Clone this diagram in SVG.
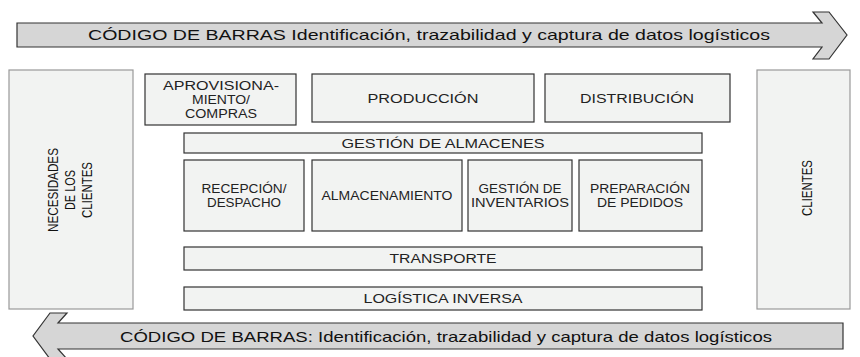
<svg xmlns="http://www.w3.org/2000/svg" width="860" height="357" viewBox="0 0 860 357">
<style>
.box{fill:#f2f3f2;stroke:#333;stroke-width:1.2}
.side{fill:#f2f3f2;stroke:#999;stroke-width:1.2}
.arrow{fill:#d6d6d6;stroke:#333;stroke-width:1.2;stroke-linejoin:miter}
.t{font-family:"Liberation Sans",Arial,sans-serif;font-size:12px;fill:#222;text-anchor:middle}
.tn{font-family:"Liberation Sans Narrow","Liberation Sans",Arial,sans-serif;font-size:15px;fill:#111;text-anchor:middle}
.ta{font-family:"Liberation Sans Narrow","Liberation Sans",Arial,sans-serif;font-size:15px;fill:#111}
</style>
<rect width="860" height="357" fill="#fff"/>
<g id="connectors">
<path id="arrow-top" class="arrow" d="M17,23 H822 L813,12 H829 L847,35 L829,59 H813 L822,47 H17 Z"/>
<path id="arrow-bottom" class="arrow" d="M843,323 H58 L67,313 H50 L33,336 L50,359 H67 L58,349 H843 Z"/>
</g>
<text class="ta" x="88" y="40" textLength="682" lengthAdjust="spacingAndGlyphs">CÓDIGO DE BARRAS Identificación, trazabilidad y captura de datos logísticos</text>
<text class="ta" x="120" y="342" textLength="652" lengthAdjust="spacingAndGlyphs">CÓDIGO DE BARRAS: Identificación, trazabilidad y captura de datos logísticos</text>
<g id="necesidades">
<rect class="side" x="9" y="70" width="124" height="239"/>
<g transform="translate(71,190) rotate(-90)">
<text class="tn" x="0" y="-13" textLength="84" lengthAdjust="spacingAndGlyphs">NECESIDADES</text>
<text class="tn" x="0" y="4" textLength="40" lengthAdjust="spacingAndGlyphs">DE LOS</text>
<text class="tn" x="0" y="21" textLength="56" lengthAdjust="spacingAndGlyphs">CLIENTES</text>
</g>
</g>
<g id="clientes">
<rect class="side" x="757" y="70" width="93" height="239"/>
<text class="tn" transform="translate(812,188) rotate(-90)" x="0" y="0" textLength="56" lengthAdjust="spacingAndGlyphs">CLIENTES</text>
</g>
<g id="aprovisionamiento">
<rect class="box" x="145" y="74" width="151" height="51"/>
<text class="t" x="221" y="90" textLength="116" lengthAdjust="spacingAndGlyphs">APROVISIONA-</text>
<text class="t" x="221" y="104" textLength="58" lengthAdjust="spacingAndGlyphs">MIENTO/</text>
<text class="t" x="221" y="118" textLength="72" lengthAdjust="spacingAndGlyphs">COMPRAS</text>
</g>
<g id="produccion">
<rect class="box" x="312" y="74" width="222" height="48"/>
<text class="t" x="423" y="103" textLength="111" lengthAdjust="spacingAndGlyphs">PRODUCCIÓN</text>
</g>
<g id="distribucion">
<rect class="box" x="545" y="74" width="185" height="48"/>
<text class="t" x="637" y="103" textLength="114" lengthAdjust="spacingAndGlyphs">DISTRIBUCIÓN</text>
</g>
<g id="gestion-almacenes">
<rect class="box" x="184" y="133" width="518" height="20"/>
<text class="t" x="443" y="148" textLength="203" lengthAdjust="spacingAndGlyphs">GESTIÓN DE ALMACENES</text>
</g>
<g id="recepcion">
<rect class="box" x="184" y="160" width="120" height="71"/>
<text class="t" x="244" y="193" textLength="85" lengthAdjust="spacingAndGlyphs">RECEPCIÓN/</text>
<text class="t" x="244" y="207" textLength="74" lengthAdjust="spacingAndGlyphs">DESPACHO</text>
</g>
<g id="almacenamiento">
<rect class="box" x="312" y="160" width="150" height="71"/>
<text class="t" x="387" y="200" textLength="131" lengthAdjust="spacingAndGlyphs">ALMACENAMIENTO</text>
</g>
<g id="inventarios">
<rect class="box" x="468" y="160" width="104" height="71"/>
<text class="t" x="520" y="193" textLength="83" lengthAdjust="spacingAndGlyphs">GESTIÓN DE</text>
<text class="t" x="520" y="207" textLength="98" lengthAdjust="spacingAndGlyphs">INVENTARIOS</text>
</g>
<g id="preparacion">
<rect class="box" x="579" y="160" width="123" height="71"/>
<text class="t" x="640" y="193" textLength="100" lengthAdjust="spacingAndGlyphs">PREPARACIÓN</text>
<text class="t" x="640" y="207" textLength="86" lengthAdjust="spacingAndGlyphs">DE PEDIDOS</text>
</g>
<g id="transporte">
<rect class="box" x="184" y="247" width="518" height="23"/>
<text class="t" x="443" y="263" textLength="107" lengthAdjust="spacingAndGlyphs">TRANSPORTE</text>
</g>
<g id="logistica-inversa">
<rect class="box" x="184" y="287" width="518" height="23"/>
<text class="t" x="443" y="303" textLength="159" lengthAdjust="spacingAndGlyphs">LOGÍSTICA INVERSA</text>
</g>
</svg>
